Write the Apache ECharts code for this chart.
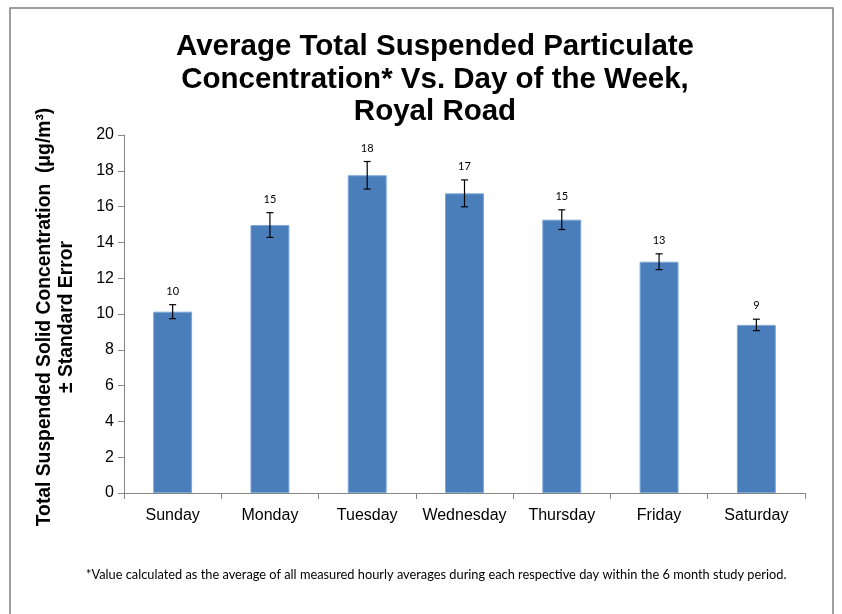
<!DOCTYPE html>
<html>
<head>
<meta charset="utf-8">
<script src="https://cdn.jsdelivr.net/npm/echarts@6/dist/echarts.min.js"></script>
<style>
  html, body { margin: 0; padding: 0; background: #fff; }
  #main { width: 842px; height: 614px; }
</style>
</head>
<body>
<div id="main"></div>
<script>
// data
var days = ['Sunday', 'Monday', 'Tuesday', 'Wednesday', 'Thursday', 'Friday', 'Saturday'];
var tsp = [10.13, 14.97, 17.75, 16.74, 15.27, 12.92, 9.39];
var stdErr = [0.39, 0.69, 0.77, 0.75, 0.55, 0.44, 0.32];
var yTicks = [0, 2, 4, 6, 8, 10, 12, 14, 16, 18, 20];

var myChart = echarts.init(document.getElementById('main'));

var errData = tsp.map(function (v, i) { return [i, v, stdErr[i]]; });

var option = {
  backgroundColor: '#fff',
  animation: false,
  title: {
    text: 'Average Total Suspended Particulate\nConcentration* Vs. Day of the Week,\nRoyal Road',
    left: 430,
    textAlign: 'center',
    top: 26,
    textStyle: {
      fontFamily: 'Liberation Sans, Arial',
      fontWeight: 'bold',
      fontSize: 29.5,
      lineHeight: 32.5,
      color: '#000'
    }
  },
  graphic: [{
    type: 'rect',
    shape: { x: 10, y: 8, width: 823, height: 620 },
    style: { fill: 'none', stroke: '#7f7f7f', lineWidth: 1.5 },
    silent: true
  }, {
    type: 'text',
    left: 86,
    top: 568,
    style: {
      text: '*Value calculated as the average of all measured hourly averages during each respective day within the 6 month study period.',
      font: '12.8px Lato, "Open Sans", sans-serif',
      fill: '#000'
    }
  }],
  grid: { left: 124, right: 37, top: 135, bottom: 121 },
  xAxis: {
    type: 'category',
    data: days,
    axisLine: { lineStyle: { color: '#868686' } },
    axisTick: { show: true, length: 6, lineStyle: { color: '#868686' } },
    axisLabel: {
      color: '#000',
      fontFamily: 'Liberation Sans, Arial',
      fontSize: 16,
      margin: 15,
      interval: 0
    }
  },
  yAxis: {
    type: 'value',
    min: yTicks[0],
    max: yTicks[yTicks.length - 1],
    interval: 2,
    name: 'Total Suspended Solid Concentration  (μg/m³)\n± Standard Error',
    nameLocation: 'middle',
    nameGap: 46,
    nameTextStyle: {
      fontFamily: 'Liberation Sans, Arial',
      fontWeight: 'bold',
      fontSize: 19.3,
      lineHeight: 22,
      padding: [0, 6, 0, 0],
      color: '#000'
    },
    axisLine: { show: true, lineStyle: { color: '#868686' } },
    axisTick: { show: true, length: 6, lineStyle: { color: '#868686' } },
    splitLine: { show: false },
    axisLabel: {
      color: '#000',
      fontFamily: 'Liberation Sans, Arial',
      fontSize: 16,
      margin: 10
    }
  },
  series: [{
    name: 'TSP',
    type: 'bar',
    data: tsp,
    barWidth: '40%',
    itemStyle: { color: '#4a7ebb', borderColor: '#7ca5d8', borderWidth: 1 }
  }, {
    name: 'error',
    type: 'custom',
    data: errData,
    z: 10,
    renderItem: function (params, api) {
      var i = api.value(0), v = api.value(1), e = api.value(2);
      var top = api.coord([i, v + e]);
      var bot = api.coord([i, v - e]);
      var cap = 3.5;
      var st = { stroke: '#000', lineWidth: 1.2 };
      return {
        type: 'group',
        children: [
          { type: 'line', shape: { x1: top[0], y1: top[1], x2: bot[0], y2: bot[1] }, style: st },
          { type: 'line', shape: { x1: top[0] - cap, y1: top[1], x2: top[0] + cap, y2: top[1] }, style: st },
          { type: 'line', shape: { x1: bot[0] - cap, y1: bot[1], x2: bot[0] + cap, y2: bot[1] }, style: st },
          {
            type: 'text',
            style: {
              x: top[0], y: top[1] - 8,
              text: String(Math.round(v)),
              textAlign: 'center',
              textVerticalAlign: 'bottom',
              font: '11px Lato, "Open Sans", sans-serif',
              fill: '#000'
            }
          }
        ]
      };
    }
  }]
};

myChart.setOption(option);
</script>
</body>
</html>
